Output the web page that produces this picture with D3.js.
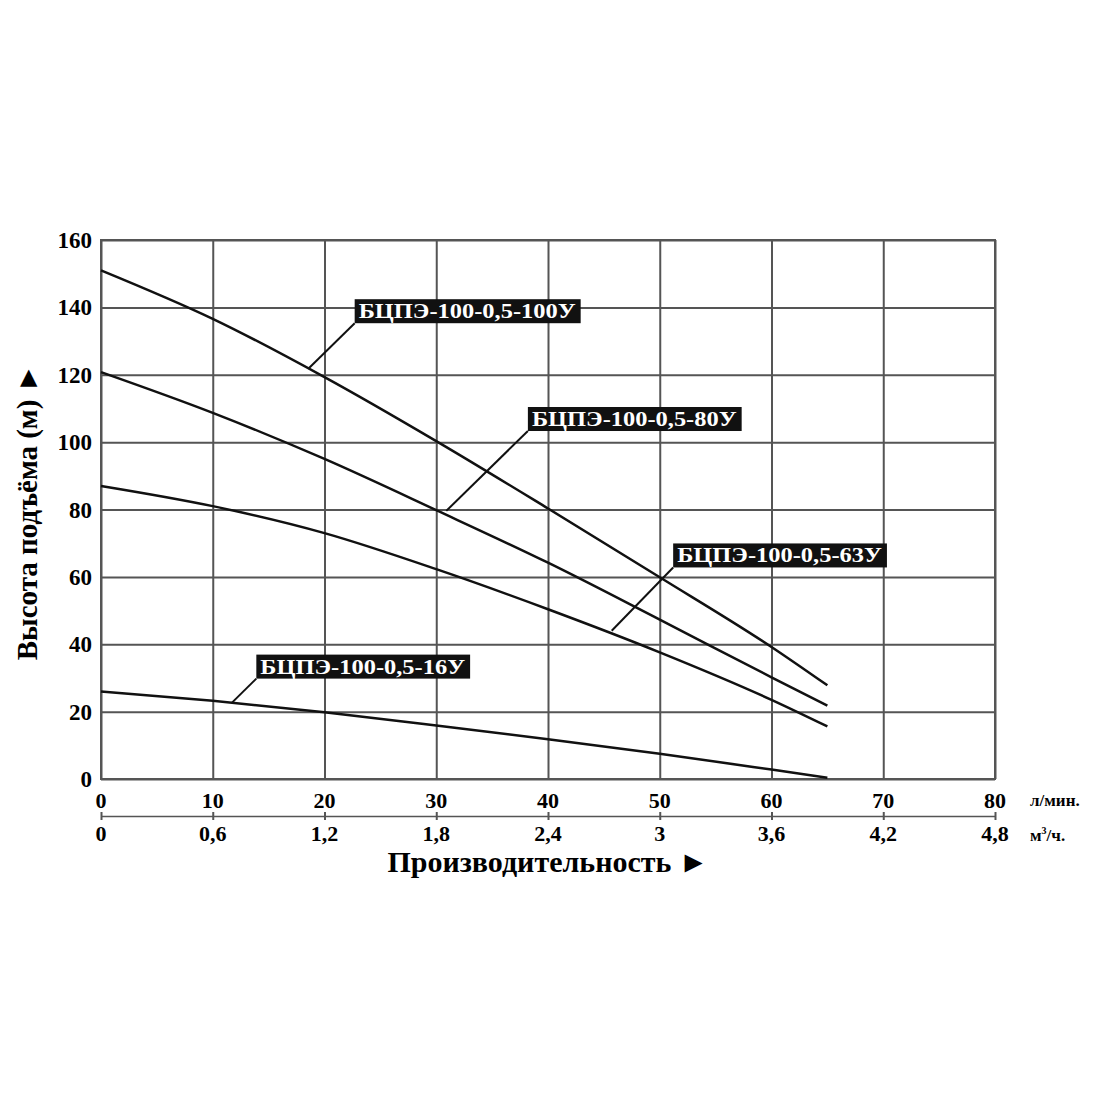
<!DOCTYPE html>
<html>
<head>
<meta charset="utf-8">
<script src="https://cdn.jsdelivr.net/npm/d3@7"></script>
<style>
  body { margin: 0; background: #fff; }
  text { font-family: "Liberation Serif", "DejaVu Serif", serif; font-weight: bold; }
</style>
</head>
<body>
<div id="chart"></div>
<script>
// flow, l/min
var flow = [0, 10, 20, 30, 40, 50, 60, 65];
// head, m
var head100 = [151, 136.6, 119.3, 100.3, 80.3, 59.9, 39.2, 27.8];
var head80  = [120.8, 108.7, 95, 79.8, 64.2, 47.3, 30.2, 21.8];
var head63  = [87, 81, 73, 62.3, 50.4, 37.6, 23.5, 15.6];
var head16  = [26, 23.2, 19.8, 15.9, 11.8, 7.5, 2.8, 0.4];

var seriesNames = ["БЦПЭ-100-0,5-100У", "БЦПЭ-100-0,5-80У", "БЦПЭ-100-0,5-63У", "БЦПЭ-100-0,5-16У"];
// leader line: point on curve, then corner of label (data units)
var leaderFrom = [[18.55, 121.8], [30.9, 79.6], [45.7, 44], [11.7, 22.6]];
var leaderTo   = [[22.7, 135.3], [38.2, 103.3], [51.2, 62.8], [13.9, 29.8]];

var xTicks = [0, 10, 20, 30, 40, 50, 60, 70, 80];
var yTicks = [0, 20, 40, 60, 80, 100, 120, 140, 160];
var m3Labels = ["0", "0,6", "1,2", "1,8", "2,4", "3", "3,6", "4,2", "4,8"];

var width = 1100, height = 1100,
    plotLeft = 101, plotRight = 995, plotTop = 240, plotBottom = 779;

var svg = d3.select("#chart").append("svg")
    .attr("width", width)
    .attr("height", height);

var x = d3.scaleLinear().domain([0, 80]).range([plotLeft, plotRight]),
    y = d3.scaleLinear().domain([0, 160]).range([plotBottom, plotTop]);

var gridColor = "#555";

// grid
svg.append("g")
    .attr("transform", "translate(0," + plotBottom + ")")
    .call(d3.axisBottom(x).tickValues(xTicks).tickSize(-(plotBottom - plotTop)).tickFormat(""))
    .call(function(g){ g.select(".domain").remove(); })
    .selectAll("line").attr("stroke", gridColor).attr("stroke-width", 2);

svg.append("g")
    .attr("transform", "translate(" + plotLeft + ",0)")
    .call(d3.axisLeft(y).tickValues(yTicks).tickSize(-(plotRight - plotLeft)).tickFormat(""))
    .call(function(g){ g.select(".domain").remove(); })
    .selectAll("line").attr("stroke", gridColor).attr("stroke-width", 2);

svg.append("rect")
    .attr("x", plotLeft).attr("y", plotTop)
    .attr("width", plotRight - plotLeft).attr("height", plotBottom - plotTop)
    .attr("fill", "none").attr("stroke", gridColor).attr("stroke-width", 2);

// y tick labels
svg.append("g").selectAll("text")
    .data(yTicks).enter().append("text")
    .attr("x", plotLeft - 9)
    .attr("y", function(d){ return y(d) + 8; })
    .attr("text-anchor", "end")
    .style("font-size", "23px")
    .text(function(d){ return d; });

// x tick labels (l/min)
svg.append("g").selectAll("text")
    .data(xTicks).enter().append("text")
    .attr("x", function(d){ return x(d); })
    .attr("y", 808)
    .attr("text-anchor", "middle")
    .style("font-size", "22px")
    .text(function(d){ return d; });

// second axis (m3/h)
var ax2 = svg.append("g")
    .attr("transform", "translate(0,816)")
    .call(d3.axisBottom(x).tickValues(xTicks).tickSize(4).tickSizeOuter(0).tickFormat(""));
ax2.select(".domain").attr("stroke", gridColor).attr("stroke-width", 1.5);
ax2.selectAll(".tick line").attr("stroke", gridColor).attr("stroke-width", 2).attr("y1", -4);

svg.append("g").selectAll("text")
    .data(m3Labels).enter().append("text")
    .attr("x", function(d, i){ return x(xTicks[i]); })
    .attr("y", 841)
    .attr("text-anchor", "middle")
    .style("font-size", "22px")
    .text(function(d){ return d; });

svg.append("text")
    .attr("x", 1030).attr("y", 806)
    .style("font-size", "17px")
    .text("л/мин.");

var m3 = svg.append("text")
    .attr("x", 1030).attr("y", 841)
    .style("font-size", "17px");
m3.append("tspan").text("м");
m3.append("tspan").attr("dy", -7).style("font-size", "10px").text("3");
m3.append("tspan").attr("dy", 7).text("/ч.");

// axis titles
svg.append("text")
    .attr("x", 548).attr("y", 872)
    .attr("text-anchor", "middle")
    .style("font-size", "30px")
    .text("Производительность ►");

svg.append("text")
    .attr("transform", "translate(37,512) rotate(-90)")
    .attr("text-anchor", "middle")
    .style("font-size", "29px")
    .text("Высота подъёма (м) ►");

// curves
var line = d3.line()
    .x(function(d){ return x(d[0]); })
    .y(function(d){ return y(d[1]); })
    .curve(d3.curveMonotoneX);

var allHeads = [head100, head80, head63, head16];

svg.append("g").selectAll("path")
    .data(allHeads).enter().append("path")
    .attr("d", function(h){ return line(flow.map(function(q, i){ return [q, h[i]]; })); })
    .attr("fill", "none")
    .attr("stroke", "#111")
    .attr("stroke-width", 2.5);

// labels with leader lines
var labelScale = null;
seriesNames.forEach(function(name, i){
    svg.append("line")
        .attr("x1", x(leaderFrom[i][0])).attr("y1", y(leaderFrom[i][1]))
        .attr("x2", x(leaderTo[i][0])).attr("y2", y(leaderTo[i][1]))
        .attr("stroke", "#111").attr("stroke-width", 2);

    var bx = x(leaderTo[i][0]), by = y(leaderTo[i][1]);
    var g = svg.append("g").attr("transform", "translate(" + bx + "," + by + ")");
    var rect = g.append("rect").attr("fill", "#111");
    var t = g.append("text")
        .attr("fill", "#fff")
        .style("font-size", "22px")
        .text(name);
    var w = t.node().getComputedTextLength();
    // the reference type is a bit wider than Liberation Serif
    if (labelScale == null) labelScale = 217 / w;
    t.attr("transform", "translate(4,-5) scale(" + labelScale + ",1)");
    rect.attr("x", 0).attr("y", -24)
        .attr("width", w * labelScale + 9).attr("height", 24);
});
</script>
</body>
</html>
